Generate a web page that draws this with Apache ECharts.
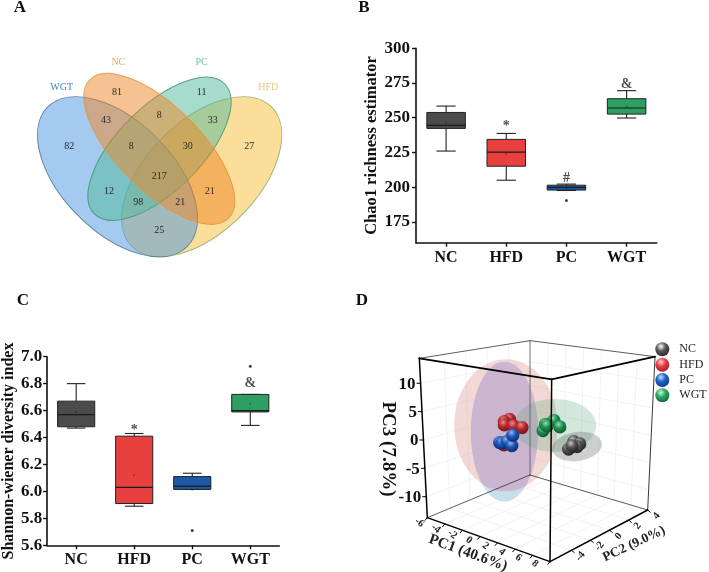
<!DOCTYPE html>
<html>
<head>
<meta charset="utf-8">
<style>html,body{margin:0;padding:0;background:#fff}#c{width:709px;height:572px}</style>
<script src="https://cdn.jsdelivr.net/npm/echarts@6/dist/echarts.min.js"></script>
</head>
<body>
<div id="c"></div>
<script>
// ---------- data ----------
const groups = ['NC', 'HFD', 'PC', 'WGT'];
// [low, q1, median, q3, high, mean]
const chaoNC = [226, 242.3, 244.5, 253.8, 258.4, 246];
const chaoHFD = [205, 215.1, 225.2, 234.4, 238.7, 223.8];
const chaoPC = [197.6, 197.9, 199.8, 201.4, 202.2, 199.6];
const chaoWGT = [249.8, 252.6, 257, 263.7, 269.5, 258];
const chaoOutliers = [['PC', 190.4]];
const chaoMarks = [['HFD', 244, '*'], ['PC', 206.5, '#'], ['WGT', 274.3, '&']];
const chaoTicks = [175, 200, 225, 250, 275, 300];

const shanNC = [6.47, 6.48, 6.57, 6.67, 6.80, 6.59];
const shanHFD = [5.89, 5.91, 6.03, 6.41, 6.43, 6.12];
const shanPC = [6.015, 6.015, 6.04, 6.11, 6.135, 6.01];
const shanWGT = [6.49, 6.59, 6.60, 6.72, 6.72, 6.65];
const shanOutliers = [['PC', 5.71], ['WGT', 6.93]];
const shanMarks = [['HFD', 6.455, '*'], ['WGT', 6.80, '&']];

const vennNames = ['WGT', 'NC', 'PC', 'HFD'];
const vennCounts = [82, 81, 43, 8, 11, 33, 27, 8, 30, 12, 217, 21, 98, 21, 25];

// PCoA scores [PC1, PC2, PC3]
const pcNC = [[4.88, -1.1, 1.0], [4.32, -1.1, -0.5], [5.56, -1.1, 0.83], [5.26, -1.1, 0.27], [4.7, -1.1, 0.19]];
const pcHFD = [[-2.32, -1.1, 2.4], [-2.92, -1.1, 1.76], [-2.92, -1.1, 1.14], [-1.87, -1.1, 1.36], [-0.93, -1.1, 1.4], [-3.0, -1.1, -2.6]];
const pcPC = [[-3.48, -1.1, -2.37], [-3.2, -1.1, -2.35], [-2.63, -1.1, -1.8], [-2.09, -1.1, -2.35], [-1.98, -1.1, -0.4]];
const pcWGT = [[1.43, -1.1, 1.7], [2.64, -1.1, 3.9], [1.7, -1.1, 2.9], [1.88, -1.1, 2.7], [3.31, -1.1, 3.0]];
const pc1Ticks = [-6, -4, -2, 0, 2, 4, 6, 8];
const pc2Ticks = [-4, -2, 0, 2, 4];
const pc3Ticks = [-10, -5, 0, 5, 10];

// ---------- layout ----------
const font = '"Liberation Serif","Times New Roman",serif';
const z2pA = (x, y) => [x / 3, y / 3];
const vennLabelPos = [[208,438],[351,277],[318,362],[478,346],[605,277],[638,362],[748,438],[394,438],[563,438],[327,573],[478,530],[629,573],[415,606],[541,606],[478,691]];
const vennNamePos = [[185,262],[355,188],[605,188],[805,262]];
const vennNameColor = ['#3f86c6', '#e9a765', '#74c2a6', '#edc66c'];
const vennEllipses = [
  {c: [201.7, 176.7], a: 98.7, b: 55.4, rot: 45, fill: 'rgba(246,190,52,0.5)', line: 'rgba(150,175,110,0.9)'},
  {c: [117.5, 176.7], a: 98.7, b: 55.4, rot: -45, fill: 'rgba(74,150,224,0.5)', line: 'rgba(60,110,150,0.8)'},
  {c: [159.5, 148.8], a: 92, b: 42, rot: 45, fill: 'rgba(80,185,155,0.5)', line: 'rgba(70,150,125,0.9)'},
  {c: [159.3, 148.8], a: 98, b: 42, rot: -45, fill: 'rgba(240,134,36,0.5)', line: 'rgba(225,150,70,0.9)'}
];
const panelLetters = [['A', 20, 8], ['B', 364, 8], ['C', 23, 301], ['D', 362, 301]];
const boxColors = {NC: '#4b4b4b', HFD: '#e8403f', PC: '#1f5aa8', WGT: '#2f9e62'};

// 3D box: eight corners on the page; PC ranges they span
const pc1Range = [-6, 8], pc2Range = [-6.26, 4], pc3Range = [-13.7, 14.4];
const zd = (x, y) => [350 + x / 3, 290 + y / 3];
const cLB = zd(232,683), cLT = zd(208,205), cFB = zd(600,815), cFT = zd(605,268),
      cRB = zd(893,660), cRT = zd(915,200), cBB = zd(540,555), cBT = zd(540,152);
function project(p1, p2, p3) {
  const u = (p1 - pc1Range[0]) / (pc1Range[1] - pc1Range[0]);
  const v = (p2 - pc2Range[0]) / (pc2Range[1] - pc2Range[0]);
  const w = (p3 - pc3Range[0]) / (pc3Range[1] - pc3Range[0]);
  const out = [0, 0];
  for (let k = 0; k < 2; k++) {
    const bot = (1-u)*(1-v)*cLB[k] + u*(1-v)*cFB[k] + u*v*cRB[k] + (1-u)*v*cBB[k];
    const top = (1-u)*(1-v)*cLT[k] + u*(1-v)*cFT[k] + u*v*cRT[k] + (1-u)*v*cBT[k];
    out[k] = bot + (top - bot) * w;
  }
  return out;
}
const P1 = pc1Range, P2 = pc2Range, P3 = pc3Range;

// grid lines on the two back walls and floor
const wallLines = [];
pc3Ticks.forEach(t => {
  wallLines.push([[P1[0], P2[0], t], [P1[0], P2[1], t]]);
  wallLines.push([[P1[0], P2[1], t], [P1[1], P2[1], t]]);
});
pc1Ticks.slice(1, -1).forEach(t => {
  wallLines.push([[t, P2[1], P3[0]], [t, P2[1], P3[1]]]);
  wallLines.push([[t, P2[0], P3[0]], [t, P2[1], P3[0]]]);
});
pc2Ticks.forEach(t => {
  wallLines.push([[P1[0], t, P3[0]], [P1[0], t, P3[1]]]);
  wallLines.push([[P1[0], t, P3[0]], [P1[1], t, P3[0]]]);
});
const thick = 1.9;
const boxEdges = [
  [[P1[0],P2[1],P3[0]],[P1[0],P2[1],P3[1]],0.8,'#555'],
  [[P1[0],P2[1],P3[0]],[P1[0],P2[0],P3[0]],0.8,'#333'],
  [[P1[0],P2[1],P3[0]],[P1[1],P2[1],P3[0]],0.8,'#333'],
  [[P1[0],P2[1],P3[1]],[P1[0],P2[0],P3[1]],0.8,'#333'],
  [[P1[0],P2[1],P3[1]],[P1[1],P2[1],P3[1]],0.8,'#333'],
  [[P1[1],P2[1],P3[0]],[P1[1],P2[1],P3[1]],0.9,'#222'],
  [[P1[0],P2[0],P3[0]],[P1[0],P2[0],P3[1]],1.5,'#000'],
  [[P1[0],P2[0],P3[0]],[P1[1],P2[0],P3[0]],1.5,'#000'],
  [[P1[1],P2[0],P3[0]],[P1[1],P2[1],P3[0]],1.5,'#000'],
  [[P1[1],P2[0],P3[0]],[P1[1],P2[0],P3[1]],1.5,'#000'],
  [[P1[0],P2[0],P3[1]],[P1[1],P2[0],P3[1]],thick,'#000'],
  [[P1[1],P2[0],P3[1]],[P1[1],P2[1],P3[1]],thick,'#000']
];
// axis tick stubs
const tickStubs = [];
pc3Ticks.forEach(t => tickStubs.push([project(P1[0],P2[0],t), -4, 0]));
pc1Ticks.forEach(t => tickStubs.push([project(t,P2[0],P3[0]), -2.5, 3]));
pc2Ticks.forEach(t => tickStubs.push([project(P1[1],t,P3[0]), 3, 2.5]));

// ellipsoids: centre in PC space, screen half-axes
const shells = [
  {name: 'PC',  c: [-2.92, -1.1, -0.1], rx: 33.5, ry: 70, rot: 0, fill: 'rgba(190,218,233,0.85)'},
  {name: 'HFD', c: [-2.74, -1.1, 1.17], rx: 51.7, ry: 66, rot: 0, fill: 'rgba(225,165,155,0.42)'},
  {name: 'WGT', c: [2.75, -1.1, 3.05], rx: 41.3, ry: 26.5, rot: 0, fill: 'rgba(100,170,130,0.28)'},
  {name: 'NC',  c: [5.26, -1.1, 0.27], rx: 25, ry: 14.5, rot: 8, fill: 'rgba(90,100,92,0.3)'}
];
const sphereTone = {
  NC:  ['#c8c8c8', '#555555', '#222222'],
  HFD: ['#e88a8a', '#b42a32', '#7a1018'],
  PC:  ['#8fb8f0', '#1f56b8', '#0c2a6a'],
  WGT: ['#9ad8ac', '#1f9150', '#0c5a2a']
};
const legendTone = {
  NC:  ['#ffffff', '#5a5a5a', '#2a2a2a'],
  HFD: ['#ffd0d0', '#e6404a', '#a81c24'],
  PC:  ['#c8e0ff', '#2166c8', '#0f3a8a'],
  WGT: ['#d0f5da', '#2fa860', '#0f6a34']
};
const legendY = [349.3, 364.7, 380, 395.3];

// text placed on the page
const pageTexts = [];
panelLetters.forEach(l => pageTexts.push({t: l[0], x: l[1], y: l[2], f: 'bold 17px ' + font, c: '#111'}));
vennNames.forEach((n, i) => {
  const p = z2pA(vennNamePos[i][0], vennNamePos[i][1]);
  pageTexts.push({t: n, x: p[0], y: p[1], f: '10px ' + font, c: vennNameColor[i]});
});
vennCounts.forEach((n, i) => {
  const p = z2pA(vennLabelPos[i][0], vennLabelPos[i][1]);
  pageTexts.push({t: String(n), x: p[0], y: p[1], f: '10px ' + font, c: '#2a2a2a'});
});
pc3Ticks.forEach(t => {
  const p = project(P1[0], P2[0], t);
  pageTexts.push({t: String(t), x: p[0] - 5, y: p[1] + 1, f: 'bold 17px ' + font, c: '#111', a: 'right'});
});
pc1Ticks.forEach((t, i) => {
  const p = project(t, P2[0], P3[0]);
  const k = i / (pc1Ticks.length - 1);
  pageTexts.push({t: String(t), x: p[0] - 8 - 7 * k, y: p[1] + 5 - 3 * k, f: 'bold 10.5px ' + font, c: '#222', r: -38});
});
pc2Ticks.forEach(t => {
  const p = project(P1[1], t, P3[0]);
  pageTexts.push({t: String(t), x: p[0] + 9, y: p[1] + 6, f: 'bold 10.5px ' + font, c: '#222', r: 50});
});
pageTexts.push({t: 'PC3 (7.8%)', x: 388, y: 449, f: 'bold 19px ' + font, c: '#111', r: -90});
pageTexts.push({t: 'PC1 (40.6%)', x: 468, y: 553, f: 'bold 15px ' + font, c: '#222', r: -20});
pageTexts.push({t: 'PC2 (9.0%)', x: 634, y: 544, f: 'bold 13.5px ' + font, c: '#222', r: 25});
groups.forEach((g, i) => pageTexts.push({t: g, x: 679.3, y: legendY[i], f: '12px ' + font, c: '#222', a: 'left'}));

// ---------- renderers ----------
const rad = d => d * Math.PI / 180;
function sphereFill(t) {
  return new echarts.graphic.RadialGradient(0.4, 0.3, 0.72, [
    {offset: 0, color: t[0]}, {offset: 0.45, color: t[1]}, {offset: 1, color: t[2]}
  ]);
}
function boxRender(colorList) {
  return function (params, api) {
    const x = api.value(0);
    const low = api.coord([x, api.value(1)]), q1 = api.coord([x, api.value(2)]),
          med = api.coord([x, api.value(3)]), q3 = api.coord([x, api.value(4)]),
          high = api.coord([x, api.value(5)]), mean = api.coord([x, api.value(6)]);
    const band = api.size([1, 0])[0];
    const hw = band * 0.32, cap = band * 0.16, cx = low[0];
    const stroke = {stroke: '#222', lineWidth: 1.1, fill: null};
    const line = (x1, y1, x2, y2, s) => ({type: 'line', shape: {x1, y1, x2, y2}, style: s || stroke});
    const fill = colorList[groups[x]];
    return {type: 'group', children: [
      line(cx, high[1], cx, q3[1]), line(cx, low[1], cx, q1[1]),
      line(cx - cap, high[1], cx + cap, high[1]), line(cx - cap, low[1], cx + cap, low[1]),
      {type: 'rect', shape: {x: cx - hw, y: q3[1], width: hw * 2, height: q1[1] - q3[1]},
       style: {fill: fill, stroke: '#222', lineWidth: 1}},
      line(cx - hw, med[1], cx + hw, med[1], {stroke: '#1a1a1a', lineWidth: 1.2}),
      {type: 'circle', shape: {cx, cy: mean[1], r: 1}, style: {fill: 'rgba(0,0,0,0.3)'}}
    ]};
  };
}
function toBox(arr, i) { return [i].concat(arr); }
function ellipsePoly(cx, cy, rx, ry, ox, oy, orx, ory) {
  // outline of the overlap of two upright ellipses, walked round the first one's centre
  const pts = [];
  for (let i = 0; i < 120; i++) {
    const th = i / 120 * 2 * Math.PI, dx = Math.cos(th), dy = Math.sin(th);
    const r1 = 1 / Math.sqrt(dx*dx/(rx*rx) + dy*dy/(ry*ry));
    const ax = dx*dx/(orx*orx) + dy*dy/(ory*ory);
    const bx = 2*((cx-ox)*dx/(orx*orx) + (cy-oy)*dy/(ory*ory));
    const cc = (cx-ox)*(cx-ox)/(orx*orx) + (cy-oy)*(cy-oy)/(ory*ory) - 1;
    const r2 = (-bx + Math.sqrt(Math.max(bx*bx - 4*ax*cc, 0))) / (2*ax);
    const r = Math.min(r1, r2);
    pts.push([cx + dx*r, cy + dy*r]);
  }
  return pts;
}

const pageAxes = {xAxisIndex: 0, yAxisIndex: 0, silent: true, clip: false, animation: false};
const series = [];

// Venn
series.push(Object.assign({type: 'custom', data: vennEllipses.map((e, i) => [i, 0]),
  encode: {x: 0, y: 1},
  renderItem(params, api) {
    const e = vennEllipses[params.dataIndex], c = api.coord(e.c);
    return {type: 'ellipse', x: c[0], y: c[1], rotation: rad(e.rot),
      shape: {cx: 0, cy: 0, rx: e.a, ry: e.b},
      style: {fill: e.fill, stroke: e.line, lineWidth: 1}};
  }}, pageAxes));

// walls of the 3D box
const segRender = list => function (params, api) {
  const s = list[params.dataIndex];
  const a = api.coord(project.apply(null, s[0])), b = api.coord(project.apply(null, s[1]));
  return {type: 'line', shape: {x1: a[0], y1: a[1], x2: b[0], y2: b[1]},
    style: {stroke: s[3] || '#efefef', lineWidth: s[2] || 0.8, lineCap: 'round'}};
};
series.push(Object.assign({type: 'custom', data: wallLines.map((e, i) => [i, 0]), encode: {x: 0, y: 1},
  renderItem: segRender(wallLines)}, pageAxes));

// ellipsoids
series.push(Object.assign({type: 'custom', data: shells.map((e, i) => [i, 0]), encode: {x: 0, y: 1},
  renderItem(params, api) {
    const s = shells[params.dataIndex], c = api.coord(project.apply(null, s.c));
    const el = {type: 'ellipse', x: c[0], y: c[1], rotation: rad(s.rot),
      shape: {cx: 0, cy: 0, rx: s.rx, ry: s.ry}, style: {fill: s.fill}};
    if (s.name === 'HFD') {
      const q = shells[0], qc = api.coord(project.apply(null, q.c));
      const pts = ellipsePoly(qc[0], qc[1], q.rx, q.ry, c[0], c[1], s.rx, s.ry);
      return {type: 'group', children: [el, {type: 'polygon', shape: {points: pts}, style: {fill: 'rgba(203,178,208,0.85)'}}]};
    }
    return el;
  }}, pageAxes));

// back edges then spheres then front edges
const backEdges = boxEdges.slice(0, 6), frontEdges = boxEdges.slice(6);
series.push(Object.assign({type: 'custom', data: backEdges.map((e, i) => [i, 0]), encode: {x: 0, y: 1},
  renderItem: segRender(backEdges)}, pageAxes));

[['NC', pcNC], ['HFD', pcHFD], ['PC', pcPC], ['WGT', pcWGT]].forEach(g => {
  series.push(Object.assign({type: 'custom', name: g[0], data: g[1].map((e, i) => [i, 0]), encode: {x: 0, y: 1},
    renderItem(params, api) {
      const c = api.coord(project.apply(null, g[1][params.dataIndex]));
      return {type: 'circle', shape: {cx: c[0], cy: c[1], r: 6.6}, style: {fill: sphereFill(sphereTone[g[0]])}};
    }}, pageAxes));
});
series.push(Object.assign({type: 'custom', data: frontEdges.map((e, i) => [i, 0]), encode: {x: 0, y: 1},
  renderItem: segRender(frontEdges)}, pageAxes));
series.push(Object.assign({type: 'custom', data: tickStubs.map((e, i) => [i, 0]), encode: {x: 0, y: 1},
  renderItem(params, api) {
    const s = tickStubs[params.dataIndex], a = api.coord(s[0]);
    return {type: 'line', shape: {x1: a[0], y1: a[1], x2: a[0] + s[1], y2: a[1] + s[2]}, style: {stroke: '#000', lineWidth: 1}};
  }}, pageAxes));

// legend spheres of D
series.push(Object.assign({type: 'custom', data: groups.map((e, i) => [i, 0]), encode: {x: 0, y: 1},
  renderItem(params, api) {
    const c = api.coord([662.3, legendY[params.dataIndex]]);
    return {type: 'circle', shape: {cx: c[0], cy: c[1], r: 7}, style: {fill: sphereFill(legendTone[groups[params.dataIndex]])}};
  }}, pageAxes));

// all free text
series.push(Object.assign({type: 'custom', data: pageTexts.map((e, i) => [i, 0]), encode: {x: 0, y: 1},
  renderItem(params, api) {
    const t = pageTexts[params.dataIndex], c = api.coord([t.x, t.y]);
    return {type: 'text', x: c[0], y: c[1], rotation: rad(t.r || 0),
      style: {text: t.t, font: t.f, fill: t.c, align: t.a || 'center', verticalAlign: 'middle'}};
  }}, pageAxes));

// box plots
function addBoxPanel(idx, rows, outliers, marks) {
  series.push({type: 'custom', xAxisIndex: idx, yAxisIndex: idx, silent: true, animation: false, clip: false,
    data: rows.map(toBox), encode: {x: 0, y: [1, 2, 3, 4, 5]}, renderItem: boxRender(boxColors)});
  series.push({type: 'scatter', xAxisIndex: idx, yAxisIndex: idx, silent: true, animation: false,
    data: outliers, symbolSize: 3, itemStyle: {color: '#111'}});
  series.push({type: 'scatter', xAxisIndex: idx, yAxisIndex: idx, silent: true, animation: false,
    data: marks.map(m => ({value: [m[0], m[1]], label: {formatter: m[2]}})), symbolSize: 1,
    itemStyle: {color: 'transparent'},
    label: {show: true, position: 'inside', color: '#222', fontFamily: font, fontWeight: 'bold', fontSize: 14}});
}
addBoxPanel(1, [chaoNC, chaoHFD, chaoPC, chaoWGT], chaoOutliers, chaoMarks);
addBoxPanel(2, [shanNC, shanHFD, shanPC, shanWGT], shanOutliers, shanMarks);

const axisLine = {show: true, onZero: false, lineStyle: {color: '#111', width: 1.6}};
const axisTick = {show: true, length: 4, lineStyle: {color: '#111', width: 1.4}};
const catAxis = gi => ({type: 'category', gridIndex: gi, data: groups, boundaryGap: true,
  axisLine, axisTick: Object.assign({alignWithLabel: true}, axisTick),
  axisLabel: {color: '#111', fontFamily: font, fontWeight: 'bold', fontSize: 16, margin: 7}, splitLine: {show: false}});

const option = {
  backgroundColor: '#fff',
  animation: false,
  grid: [
    {left: 0, top: 0, width: 709, height: 572},
    {left: 416, top: 48.3, width: 240.7, height: 194.4},
    {left: 44.3, top: 356.7, width: 235, height: 188.6}
  ],
  xAxis: [
    {type: 'value', gridIndex: 0, min: 0, max: 709, show: false},
    catAxis(1), catAxis(2)
  ],
  yAxis: [
    {type: 'value', gridIndex: 0, min: 0, max: 572, inverse: true, show: false},
    {type: 'value', gridIndex: 1, min: 160, max: 300, axisLine,
      axisTick: Object.assign({customValues: chaoTicks}, axisTick),
      axisLabel: {customValues: chaoTicks, color: '#111', fontFamily: font, fontWeight: 'bold', fontSize: 17, margin: 6},
      splitLine: {show: false},
      name: 'Chao1 richness estimator', nameLocation: 'middle', nameGap: 32, nameRotate: 90,
      nameTextStyle: {color: '#111', fontFamily: font, fontWeight: 'bold', fontSize: 16.5}},
    {type: 'value', gridIndex: 2, min: 5.6, max: 7.0, interval: 0.2, axisLine, axisTick,
      axisLabel: {formatter: v => v.toFixed(1), color: '#111', fontFamily: font, fontWeight: 'bold', fontSize: 17, margin: 5},
      splitLine: {show: false},
      name: 'Shannon-wiener diversity index', nameLocation: 'middle', nameGap: 27, nameRotate: 90,
      nameTextStyle: {color: '#111', fontFamily: font, fontWeight: 'bold', fontSize: 16}}
  ],
  series
};
const chart = echarts.init(document.getElementById('c'), null, {renderer: 'canvas', width: 709, height: 572});
chart.setOption(option);
</script>
</body>
</html>
